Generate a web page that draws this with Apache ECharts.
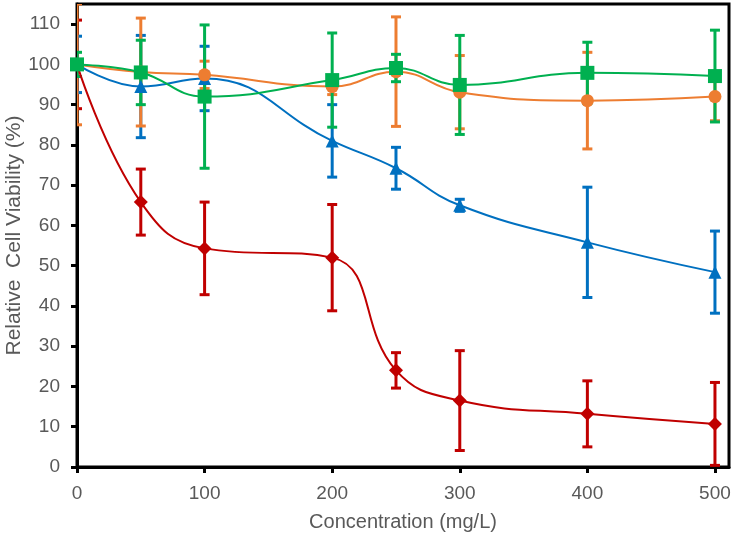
<!DOCTYPE html>
<html>
<head>
<meta charset="utf-8">
<script src="https://cdn.jsdelivr.net/npm/echarts@6/dist/echarts.min.js"></script>
<style>
html,body{margin:0;padding:0;background:#fff;}
#chart{width:735px;height:535px;}
</style>
</head>
<body>
<div id="chart"></div>
<script>
// Data
var concentrations = [0, 50, 100, 200, 250, 300, 400, 500];
var xTicks = [0, 100, 200, 300, 400, 500];
var yTicks = [0, 10, 20, 30, 40, 50, 60, 70, 80, 90, 100, 110];

var redMean  = [100, 65.8, 54.3, 52.0, 24.0, 16.5, 13.2, 10.7];
var redSD    = [11, 8.2, 11.5, 13.2, 4.4, 12.4, 8.2, 10.3];

var blueMean = [100, 94.5, 96.5, 81.0, 74.2, 65.0, 55.8, 48.4];
var blueSD   = [7, 12.7, 8.0, 9.0, 5.2, 1.5, 13.7, 10.2];

var orangeMean = [100, 98.1, 97.4, 94.5, 98.2, 93.1, 91.0, 92.0];
var orangeSD   = [15, 13.4, 3.4, 2.0, 13.6, 9.1, 12.0, 6.0];

var greenMean = [100, 98.0, 92.0, 96.1, 99.1, 94.9, 97.9, 97.1];
var greenSD   = [3, 8.0, 17.8, 11.7, 3.4, 12.3, 7.6, 11.4];

var seriesDefs = [
  {name: 'red',    color: '#C00000', mean: redMean,    sd: redSD,    symbol: 'diamond',  size: 14},
  {name: 'blue',   color: '#0070C0', mean: blueMean,   sd: blueSD,   symbol: 'triangle', size: 13},
  {name: 'orange', color: '#ED7D31', mean: orangeMean, sd: orangeSD, symbol: 'circle',   size: 13},
  {name: 'green',  color: '#00B050', mean: greenMean,  sd: greenSD,  symbol: 'rect',     size: 14}
];

function errorBarRenderer(color) {
  return function (params, api) {
    var x = api.value(0);
    var lo = api.coord([x, api.value(1)]);
    var hi = api.coord([x, api.value(2)]);
    var hw = 5;
    var style = {stroke: color, lineWidth: 3, fill: null};
    return {
      type: 'group',
      children: [
        {type: 'line', shape: {x1: lo[0], y1: lo[1], x2: hi[0], y2: hi[1]}, style: style},
        {type: 'line', shape: {x1: lo[0] - hw, y1: lo[1], x2: lo[0] + hw, y2: lo[1]}, style: style},
        {type: 'line', shape: {x1: hi[0] - hw, y1: hi[1], x2: hi[0] + hw, y2: hi[1]}, style: style}
      ]
    };
  };
}

var series = [];
seriesDefs.forEach(function (d) {
  var errData = concentrations.map(function (c, i) {
    return [c, d.mean[i] - d.sd[i], d.mean[i] + d.sd[i]];
  });
  series.push({
    type: 'custom',
    name: d.name + '-err',
    renderItem: errorBarRenderer(d.color),
    data: errData,
    encode: {x: 0, y: [1, 2]},
    clip: true,
    silent: true
  });
  series.push({
    type: 'line',
    name: d.name,
    data: concentrations.map(function (c, i) { return [c, d.mean[i]]; }),
    smooth: 0.45,
    symbol: d.symbol,
    symbolSize: d.size,
    showAllSymbol: true,
    lineStyle: {color: d.color, width: 2},
    itemStyle: {color: d.color, borderWidth: 0},
    silent: true
  });
});

var fontFam = '"Liberation Sans", Arial, sans-serif';
var labelFont = {color: '#595959', fontSize: 19, fontFamily: fontFam};

var chart = echarts.init(document.getElementById('chart'), null, {renderer: 'canvas'});
chart.setOption({
  animation: false,
  backgroundColor: '#ffffff',
  grid: {left: 77, right: 6, top: 4, bottom: 68, show: true, borderColor: '#000', borderWidth: 3,
         containLabel: false, outerBoundsMode: 'none'},
  xAxis: {
    type: 'value',
    min: 0, max: 511, interval: 100,
    name: 'Concentration (mg/L)',
    nameLocation: 'middle',
    nameGap: 45,
    nameMoveOverlap: false,
    nameTextStyle: {color: '#595959', fontSize: 20, fontFamily: fontFam},
    axisLine: {show: true, lineStyle: {color: '#000', width: 3}},
    axisTick: {show: true, inside: false, length: 6, lineStyle: {color: '#000', width: 3}, customValues: xTicks},
    axisLabel: Object.assign({margin: 17, customValues: xTicks}, labelFont),
    splitLine: {show: false}
  },
  yAxis: {
    type: 'value',
    min: 0, max: 115, interval: 10,
    name: 'Relative  Cell Viability (%)',
    nameLocation: 'middle',
    nameGap: 52,
    nameMoveOverlap: false,
    nameTextStyle: {color: '#595959', fontSize: 21, fontFamily: fontFam},
    axisLine: {show: true, lineStyle: {color: '#000', width: 3}},
    axisTick: {show: true, inside: false, length: 6, lineStyle: {color: '#000', width: 3}, customValues: yTicks},
    axisLabel: Object.assign({margin: 17, customValues: yTicks}, labelFont),
    splitLine: {show: false}
  },
  series: series
});
</script>
</body>
</html>
